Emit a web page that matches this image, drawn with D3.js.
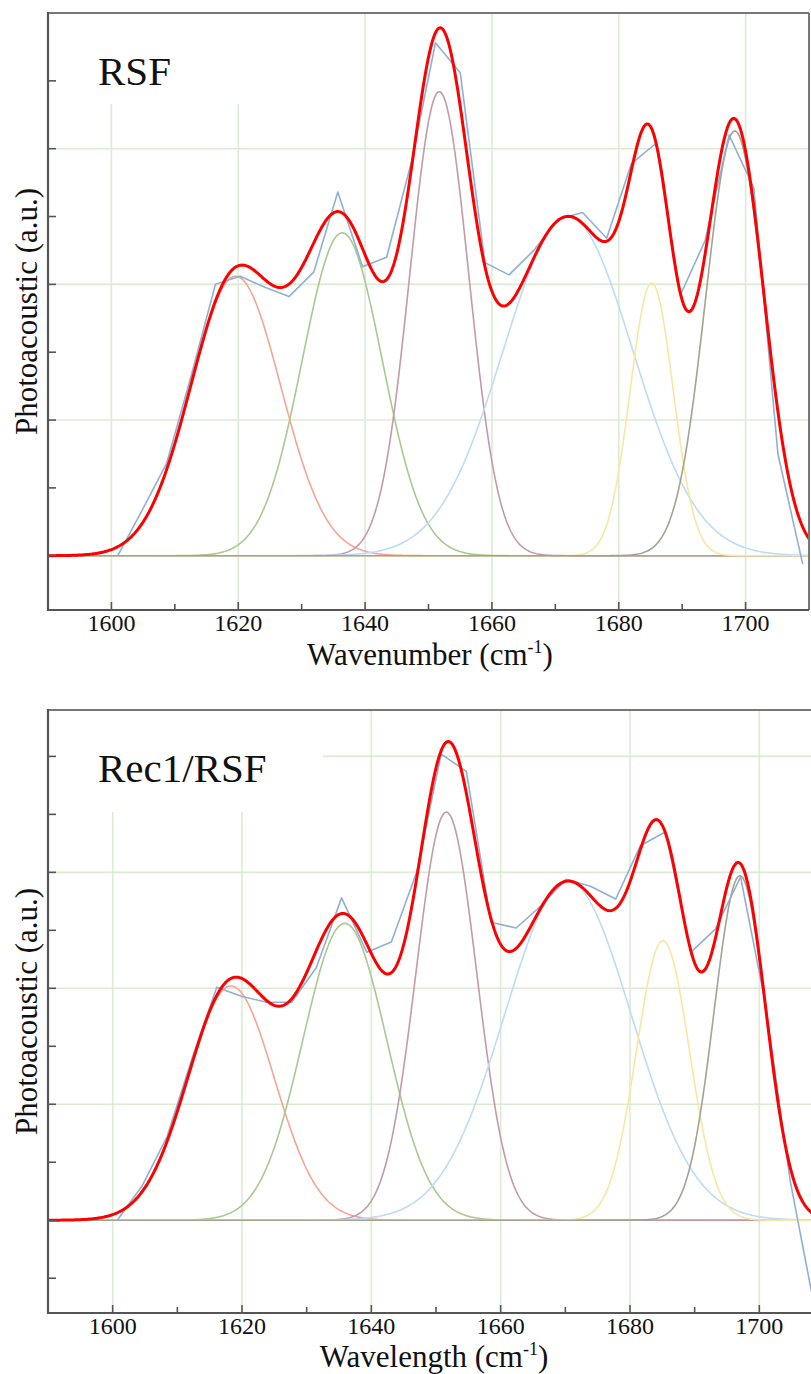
<!DOCTYPE html>
<html>
<head>
<meta charset="utf-8">
<script src="https://cdn.jsdelivr.net/npm/d3@7"></script>
<style>
  body { margin: 0; background: #fff; }
</style>
</head>
<body>
<div id="chart"></div>
<script>
// Peak colours, same order in both panels
const peakColors = ["#f6a595", "#a9c98f", "#c49aaa", "#bcdcf8", "#fbe6a0", "#a3a392"];

// RSF: fitted gaussian bands (center, height, sigma) and measured spectrum
const rsfCenters = [1619.6, 1636.4, 1651.7, 1672.0, 1685.2, 1698.3];
const rsfHeights = [2.06, 2.38, 3.42, 2.50, 2.01, 3.13];
const rsfSigmas  = [7.1, 6.3, 4.65, 10.2, 3.4, 4.6];
const rsfWave = [1601.0, 1604.9, 1608.7, 1612.6, 1616.4, 1620.3, 1624.1, 1628.0, 1631.9, 1635.7,
                 1639.6, 1643.4, 1647.3, 1651.1, 1655.0, 1658.9, 1662.7, 1666.6, 1670.4, 1674.3,
                 1678.1, 1682.0, 1685.9, 1689.7, 1693.6, 1697.4, 1701.3, 1705.1, 1709.0];
const rsfMeasured = [0.00, 0.34, 0.68, 1.33, 2.00, 2.06, 1.98, 1.91, 2.09, 2.68,
                     2.13, 2.20, 2.90, 3.78, 3.56, 2.16, 2.07, 2.25, 2.48, 2.53,
                     2.34, 2.89, 3.04, 1.92, 2.32, 3.10, 2.71, 0.75, -0.06];

// Rec1/RSF
const recCenters = [1618.3, 1635.9, 1651.6, 1670.4, 1685.1, 1697.0];
const recHeights = [2.02, 2.56, 3.52, 2.92, 2.41, 2.97];
const recSigmas  = [6.7, 6.5, 4.7, 9.8, 4.1, 4.0];
const recWave = [1600.7, 1604.6, 1608.4, 1612.3, 1616.1, 1620.0, 1623.8, 1627.7, 1631.5, 1635.4,
                 1639.3, 1643.1, 1647.0, 1650.8, 1654.7, 1658.5, 1662.4, 1666.2, 1670.1, 1673.9,
                 1677.8, 1681.6, 1685.5, 1689.4, 1693.2, 1697.1, 1700.9, 1704.8, 1708.6];
const recMeasured = [0.00, 0.30, 0.72, 1.40, 2.01, 1.93, 1.88, 1.88, 2.18, 2.78,
                     2.31, 2.40, 3.00, 4.02, 3.87, 2.57, 2.52, 2.71, 2.94, 2.88,
                     2.77, 3.23, 3.35, 2.31, 2.51, 2.96, 1.88, 0.33, -0.77];

const xDomain = [1590, 1710];
const xMajorTicks = [1600, 1620, 1640, 1660, 1680, 1700];
const xMinorTicks = [1610, 1630, 1650, 1670, 1690];

const W = 811, H = 1374;
const serif = "'Liberation Serif', 'DejaVu Serif', serif";

const svg = d3.select("#chart")
    .append("svg")
    .attr("width", W)
    .attr("height", H)
    .attr("font-family", serif)
    .style("display", "block");

const panels = [
    {
        id: "top", label: "RSF", xWord: "Wavenumber",
        centers: rsfCenters, heights: rsfHeights, sigmas: rsfSigmas,
        wave: rsfWave, measured: rsfMeasured,
        left: 48, right: 809, top: 13, bottom: 610,
        yDomain: [-0.4, 4.0], rightBorder: true,
        boxRight: 325, boxBottom: 104, labelY: 85, titleX: 430, titleY: 665
    },
    {
        id: "bottom", label: "Rec1/RSF", xWord: "Wavelength",
        centers: recCenters, heights: recHeights, sigmas: recSigmas,
        wave: recWave, measured: recMeasured,
        left: 48, right: 824, top: 710, bottom: 1313,
        yDomain: [-0.8, 4.4], rightBorder: false,
        boxRight: 323, boxBottom: 812, labelY: 782, titleX: 434, titleY: 1367
    }
];

function gauss(w, c, h, s) {
    return h * Math.exp(-((w - c) * (w - c)) / (2 * s * s));
}

panels.forEach(drawPanel);

function drawPanel(p) {
    const x = d3.scaleLinear().domain(xDomain).range([p.left, p.right]);
    const y = d3.scaleLinear().domain(p.yDomain).range([p.bottom, p.top]);
    const g = svg.append("g");

    g.append("clipPath").attr("id", "clip-" + p.id)
        .append("rect")
        .attr("x", p.left).attr("y", p.top)
        .attr("width", p.right - p.left).attr("height", p.bottom - p.top);

    const plot = g.append("g").attr("clip-path", `url(#clip-${p.id})`);

    // grid
    const yGrid = d3.range(Math.ceil(p.yDomain[0]), Math.floor(p.yDomain[1]) + 1);
    plot.selectAll("line.hgrid").data(yGrid).enter().append("line")
        .attr("x1", p.left).attr("x2", p.right)
        .attr("y1", d => y(d)).attr("y2", d => y(d))
        .attr("stroke", "#dcebd3").attr("stroke-width", 1.6);
    plot.selectAll("line.vgrid").data(xMajorTicks).enter().append("line")
        .attr("x1", d => x(d)).attr("x2", d => x(d))
        .attr("y1", p.top).attr("y2", p.bottom)
        .attr("stroke", "#dcebd3").attr("stroke-width", 1.6);

    // white box behind the sample name
    plot.append("rect")
        .attr("x", p.left).attr("y", p.top)
        .attr("width", p.boxRight - p.left).attr("height", p.boxBottom - p.top)
        .attr("fill", "#fff");

    const xs = d3.range(xDomain[0], xDomain[1] + 0.001, 0.2);
    const line = d3.line().x(d => x(d[0])).y(d => y(d[1]));

    // component bands
    p.centers.forEach((c, i) => {
        const pts = xs.map(w => [w, gauss(w, c, p.heights[i], p.sigmas[i])]);
        plot.append("path")
            .attr("d", line(pts))
            .attr("fill", "none")
            .attr("stroke", peakColors[i])
            .attr("stroke-width", 1.6);
    });

    // measured spectrum
    plot.append("path")
        .attr("d", line(p.wave.map((w, i) => [w, p.measured[i]])))
        .attr("fill", "none")
        .attr("stroke", "#8fb0d3")
        .attr("stroke-width", 1.6)
        .attr("stroke-linejoin", "round");

    // fit = sum of bands
    const sumPts = xs.map(w => [w, d3.sum(p.centers, (c, i) => gauss(w, c, p.heights[i], p.sigmas[i]))]);
    plot.append("path")
        .attr("d", line(sumPts))
        .attr("fill", "none")
        .attr("stroke", "#ff0000")
        .attr("stroke-width", 3)
        .attr("stroke-linejoin", "round");

    // sample name
    g.append("text")
        .attr("x", 98).attr("y", p.labelY)
        .attr("font-size", 41)
        .attr("fill", "#111")
        .text(p.label);

    // ticks
    const yTicks = d3.range(Math.ceil(p.yDomain[0] * 2) / 2, p.yDomain[1] - 0.1, 0.5);
    g.selectAll("line.ytick").data(yTicks).enter().append("line")
        .attr("x1", p.left).attr("x2", p.left + 8)
        .attr("y1", d => y(d)).attr("y2", d => y(d))
        .attr("stroke", "#555").attr("stroke-width", 1.6);
    g.selectAll("line.xmajor").data(xMajorTicks).enter().append("line")
        .attr("x1", d => x(d)).attr("x2", d => x(d))
        .attr("y1", p.bottom).attr("y2", p.bottom - 8)
        .attr("stroke", "#555").attr("stroke-width", 1.6);
    g.selectAll("line.xminor").data(xMinorTicks).enter().append("line")
        .attr("x1", d => x(d)).attr("x2", d => x(d))
        .attr("y1", p.bottom).attr("y2", p.bottom - 6)
        .attr("stroke", "#555").attr("stroke-width", 1.6);

    // frame
    g.append("line")
        .attr("x1", p.left).attr("x2", p.right)
        .attr("y1", p.top).attr("y2", p.top)
        .attr("stroke", "#777").attr("stroke-width", 2);
    if (p.rightBorder) {
        g.append("line")
            .attr("x1", p.right).attr("x2", p.right)
            .attr("y1", p.top).attr("y2", p.bottom)
            .attr("stroke", "#777").attr("stroke-width", 2);
    }
    g.append("line")
        .attr("x1", p.left).attr("x2", p.left)
        .attr("y1", p.top - 1).attr("y2", p.bottom + 1)
        .attr("stroke", "#555").attr("stroke-width", 2.2);
    g.append("line")
        .attr("x1", p.left).attr("x2", p.right)
        .attr("y1", p.bottom).attr("y2", p.bottom)
        .attr("stroke", "#555").attr("stroke-width", 2.2);

    // tick labels
    g.selectAll("text.xlab").data(xMajorTicks).enter().append("text")
        .attr("x", d => x(d)).attr("y", p.bottom + 21)
        .attr("text-anchor", "middle")
        .attr("font-size", 24)
        .attr("fill", "#111")
        .text(d => d);

    // axis titles
    const xt = g.append("text")
        .attr("x", p.titleX).attr("y", p.titleY)
        .attr("text-anchor", "middle")
        .attr("font-size", 31)
        .attr("fill", "#111");
    xt.append("tspan").text(p.xWord + " (cm");
    xt.append("tspan").attr("dy", -12).attr("font-size", 18).text("-1");
    xt.append("tspan").attr("dy", 12).text(")");

    g.append("text")
        .attr("transform", `translate(37,${(p.top + p.bottom) / 2}) rotate(-90)`)
        .attr("text-anchor", "middle")
        .attr("font-size", 31)
        .attr("fill", "#111")
        .text("Photoacoustic (a.u.)");
}
</script>
</body>
</html>
